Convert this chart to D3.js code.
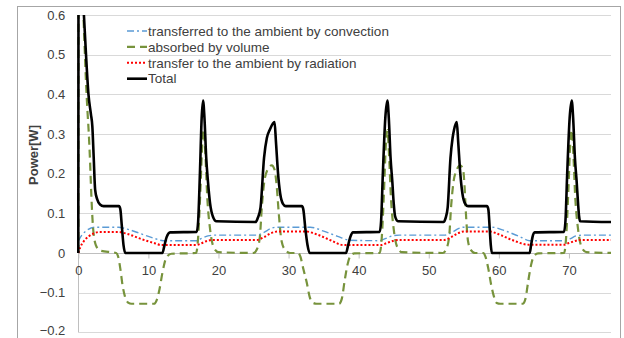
<!DOCTYPE html>
<html>
<head>
<meta charset="utf-8">
<script src="https://cdn.jsdelivr.net/npm/d3@7"></script>
<style>
  body { margin: 0; background: #fff; }
  text { font-family: "Liberation Sans", Arial, sans-serif; fill: #404040; }
</style>
</head>
<body>
<div id="chart"></div>
<script>
// time [s] vs power [W]
var convection = [[0,0.03],[0.5,0.045],[1.2,0.057],[2.4,0.065],[5.7,0.065],[7,0.06],[9,0.048],[11,0.036],[12.1,0.031],[16.9,0.031],[17.5,0.036],[18.5,0.043],[19.5,0.045],[25.5,0.045],[26.5,0.052],[27.5,0.062],[28.3,0.065],[33.1,0.065],[35,0.055],[37,0.042],[38.8,0.032],[43,0.031],[43.8,0.036],[44.8,0.043],[45.8,0.045],[52.3,0.045],[53.3,0.052],[54.3,0.062],[54.9,0.065],[59,0.065],[61,0.055],[63,0.041],[64.4,0.031],[69.5,0.031],[70.2,0.036],[71,0.043],[72,0.045],[76,0.045]];

var absorbed = [[0,0],[0.05,0.9],[0.6,0.66],[0.9,0.52],[1.1,0.43],[1.3,0.36],[1.5,0.3],[1.67,0.234],[1.85,0.15],[2.1,0.065],[2.5,0.02],[3.1,0.006],[5.4,0],[5.7,-0.01],[6.0,-0.04],[6.3,-0.08],[6.66,-0.11],[7.1,-0.125],[7.6,-0.128],[10.8,-0.128],[11.2,-0.118],[11.6,-0.09],[12.0,-0.05],[12.6,-0.01],[13.3,-0.002],[16.8,0],[17.1,0.04],[17.4,0.15],[17.7,0.28],[17.9,0.31],[18.1,0.26],[18.4,0.14],[18.8,0.06],[19.3,0.015],[20.0,0.002],[25.0,0],[25.5,0.01],[25.9,0.04],[26.2,0.12],[26.5,0.175],[27.0,0.21],[27.6,0.221],[28.0,0.21],[28.3,0.17],[28.6,0.1],[29.0,0.03],[29.5,0.008],[30.2,0],[31.4,0],[31.7,-0.01],[32.1,-0.04],[32.6,-0.075],[33.0,-0.11],[33.5,-0.126],[34.0,-0.128],[37.2,-0.128],[37.6,-0.115],[38.0,-0.07],[38.4,-0.03],[38.8,-0.008],[39.4,-0.001],[43.0,0],[43.3,0.04],[43.6,0.15],[43.9,0.28],[44.1,0.31],[44.3,0.26],[44.6,0.14],[45.0,0.06],[45.5,0.015],[46.2,0.002],[52.0,0],[52.5,0.01],[52.9,0.04],[53.2,0.12],[53.5,0.175],[54.0,0.21],[54.5,0.221],[54.9,0.21],[55.1,0.17],[55.3,0.1],[55.6,0.03],[56.0,0.008],[56.6,0],[57.8,0],[58.1,-0.01],[58.5,-0.04],[58.9,-0.08],[59.3,-0.11],[59.7,-0.126],[60.2,-0.128],[63.4,-0.128],[63.8,-0.115],[64.2,-0.07],[64.6,-0.03],[65.0,-0.008],[65.6,-0.001],[69.3,0],[69.6,0.04],[69.9,0.15],[70.2,0.28],[70.4,0.31],[70.6,0.26],[70.9,0.14],[71.3,0.06],[71.8,0.015],[72.5,0.002],[76,0]];

var radiation = [[0,0],[0.3,0.015],[0.8,0.03],[1.5,0.042],[2.2,0.049],[3,0.053],[5.7,0.053],[7,0.048],[9,0.035],[11,0.024],[11.8,0.02],[16.8,0.02],[17.5,0.024],[18.5,0.031],[19.3,0.033],[25.5,0.033],[26.5,0.04],[27.5,0.05],[28.5,0.054],[32.5,0.054],[34,0.047],[36,0.032],[37.8,0.02],[43.2,0.02],[44,0.025],[45,0.031],[45.8,0.033],[52.2,0.033],[53.2,0.04],[54.2,0.05],[55,0.054],[58.7,0.054],[60,0.047],[62,0.032],[64.2,0.021],[69.3,0.021],[70,0.025],[71,0.031],[71.8,0.033],[76,0.033]];

var total = [[0,0],[0.05,0.9],[0.8,0.6],[1.1,0.5],[1.45,0.4],[1.8,0.35],[2.0,0.32],[2.2,0.24],[2.4,0.16],[2.7,0.135],[3.1,0.122],[3.6,0.118],[5.8,0.118],[6.0,0.11],[6.2,0.07],[6.45,0.02],[6.7,0],[12.0,0],[12.3,0.02],[12.6,0.04],[13.1,0.052],[16.9,0.053],[17.1,0.08],[17.35,0.2],[17.6,0.34],[17.8,0.384],[18.0,0.34],[18.25,0.24],[18.5,0.18],[18.8,0.125],[19.2,0.092],[19.7,0.08],[25.3,0.078],[25.6,0.088],[26.0,0.115],[26.5,0.24],[26.9,0.29],[27.3,0.31],[28.0,0.33],[28.2,0.28],[28.5,0.2],[28.8,0.15],[29.2,0.124],[29.6,0.118],[31.9,0.118],[32.1,0.11],[32.4,0.06],[32.7,0.02],[33.0,0],[38.2,0],[38.5,0.02],[38.8,0.04],[39.2,0.052],[43.0,0.053],[43.2,0.08],[43.45,0.2],[43.8,0.34],[44.1,0.384],[44.3,0.34],[44.55,0.24],[44.8,0.18],[45.0,0.125],[45.2,0.092],[45.6,0.08],[52.1,0.078],[52.4,0.088],[52.7,0.115],[53.1,0.24],[53.4,0.29],[53.6,0.31],[54.0,0.33],[54.2,0.28],[54.5,0.2],[54.8,0.15],[55.2,0.124],[55.6,0.118],[58.3,0.118],[58.5,0.11],[58.7,0.06],[58.85,0.02],[59.0,0],[64.4,0],[64.6,0.02],[64.8,0.04],[65.1,0.052],[69.3,0.053],[69.5,0.08],[69.75,0.2],[70.1,0.34],[70.4,0.384],[70.6,0.34],[70.85,0.24],[71.1,0.18],[71.3,0.125],[71.45,0.092],[71.6,0.08],[76,0.078]];

var xTicks = [0, 10, 20, 30, 40, 50, 60, 70];
var yTicks = [-0.2, -0.1, 0, 0.1, 0.2, 0.3, 0.4, 0.5, 0.6];

var seriesNames = ["transferred to the ambient by convection", "absorbed by volume", "transfer to the ambient by radiation", "Total"];

var width = 624, height = 338;

var svg = d3.select("#chart").append("svg")
  .attr("width", width).attr("height", height);

// outer chart border
svg.append("rect")
  .attr("x", 17.5).attr("y", 6.5)
  .attr("width", 603).attr("height", 345)
  .attr("fill", "none").attr("stroke", "#a6a6a6");

var x = d3.scaleLinear().domain([0, 76]).range([78.3, 611]);
var y = d3.scaleLinear().domain([-0.2, 0.6]).range([332.3, 15]);

// horizontal grid
svg.append("g").selectAll("line").data(yTicks).enter().append("line")
  .attr("x1", x(0)).attr("x2", x(76))
  .attr("y1", function(d) { return Math.round(y(d)) + 0.5; })
  .attr("y2", function(d) { return Math.round(y(d)) + 0.5; })
  .attr("stroke", "#d9d9d9").attr("stroke-width", 1.2);

// y axis (vertical line + labels)
svg.append("line")
  .attr("x1", Math.round(x(0)) + 0.5).attr("x2", Math.round(x(0)) + 0.5)
  .attr("y1", y(0.6)).attr("y2", y(-0.2))
  .attr("stroke", "#bfbfbf");

var yAxis = d3.axisLeft(y).tickValues(yTicks).tickSize(0).tickPadding(13)
  .tickFormat(function(d) { return d === 0 ? "0" : d3.format(".1f")(d); });
svg.append("g")
  .attr("transform", "translate(" + x(0) + ",0)")
  .call(yAxis)
  .call(function(g) { g.select(".domain").remove(); })
  .selectAll("text")
  .attr("y", function(d) { return d === -0.2 ? -2 : 0; })
  .style("font-family", "Liberation Sans, Arial, sans-serif")
  .style("font-size", "13px").attr("fill", "#404040");

// x axis along zero
var xAxis = d3.axisBottom(x).tickValues(xTicks).tickSize(5).tickPadding(7);
var gx = svg.append("g")
  .attr("transform", "translate(0," + (Math.round(y(0)) + 0.5) + ")")
  .call(xAxis);
gx.select(".domain").attr("stroke", "#bfbfbf").attr("d", "M" + x(0) + ",0H" + x(76));
gx.selectAll(".tick line").attr("stroke", "#bfbfbf");
gx.selectAll("text")
  .style("font-family", "Liberation Sans, Arial, sans-serif")
  .style("font-size", "13px").attr("fill", "#404040");

svg.append("text")
  .attr("transform", "translate(38,155) rotate(-90)")
  .attr("text-anchor", "middle")
  .style("font-size", "13px").style("font-weight", "bold")
  .attr("fill", "#000")
  .text("Power[W]");

// clip to plot area
svg.append("clipPath").attr("id", "plot")
  .append("rect")
  .attr("x", x(0) - 2).attr("y", y(0.6))
  .attr("width", x(76) - x(0) + 2).attr("height", y(-0.2) - y(0.6));

var line = d3.line()
  .x(function(d) { return x(d[0]); })
  .y(function(d) { return y(d[1]); })
  .curve(d3.curveMonotoneX);

var styles = [
  {data: convection, color: "#5b9bd5", w: 1.4, dash: "7,3,2,3"},
  {data: absorbed, color: "#77933c", w: 2.2, dash: "8,5"},
  {data: radiation, color: "#ff0000", w: 2, dash: "2,2"},
  {data: total, color: "#000000", w: 2.6, dash: null}
];

var plot = svg.append("g").attr("clip-path", "url(#plot)");
styles.forEach(function(s) {
  plot.append("path")
    .datum(s.data)
    .attr("d", line)
    .attr("fill", "none")
    .attr("stroke", s.color)
    .attr("stroke-width", s.w)
    .attr("stroke-dasharray", s.dash)
    .attr("stroke-linejoin", "round");
});

// legend
var legend = svg.append("g");
seriesNames.forEach(function(name, i) {
  var ly = 31 + i * 15.9;
  legend.append("line")
    .attr("x1", 127).attr("x2", 147)
    .attr("y1", ly).attr("y2", ly)
    .attr("stroke", styles[i].color)
    .attr("stroke-width", styles[i].w)
    .attr("stroke-dasharray", styles[i].dash);
  legend.append("text")
    .attr("x", 148).attr("y", ly)
    .attr("dy", "0.35em")
    .style("font-size", "13.5px")
    .attr("fill", "#404040")
    .text(name);
});
</script>
</body>
</html>
